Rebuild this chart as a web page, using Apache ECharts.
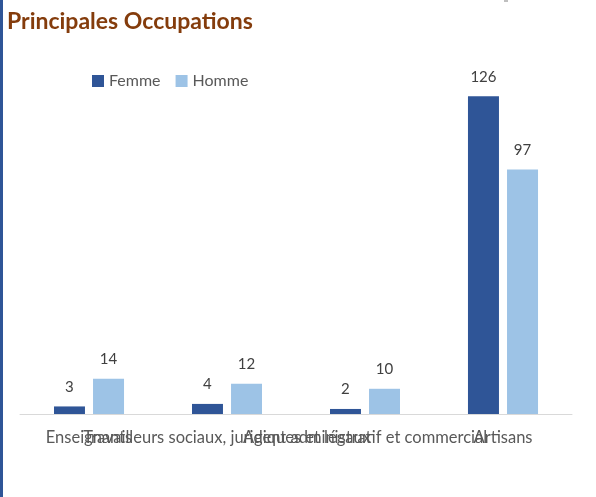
<!DOCTYPE html>
<html lang="fr">
<head>
    <meta charset="UTF-8">
    <title>Principales Occupations</title>
    <script src="https://cdn.jsdelivr.net/npm/echarts@6/dist/echarts.min.js"></script>
    <style>
        html, body { margin: 0; padding: 0; background: #fff; }
        #main { width: 596px; height: 497px; }
    </style>
</head>
<body>
<div id="main"></div>
<script>
    // données
    const categories = ['Enseignants', 'Travailleurs sociaux, juridiques et légaux', 'Agent administratif et commercial', 'Artisans'];
    const femme = [3, 4, 2, 126];
    const homme = [14, 12, 10, 97];

    const fontFam = 'Lato, "Open Sans", sans-serif';

    let myChart = echarts.init(document.getElementById('main'));

    const barLabel = {
        show: true,
        position: 'top',
        distance: 12,
        color: '#404040',
        fontSize: 15,
        fontFamily: fontFam
    };

    const option = {
        animation: false,
        title: {
            text: 'Principales Occupations',
            left: 2,
            top: 5,
            textStyle: {color: '#843c0c', fontSize: 23, fontWeight: 'bold', fontFamily: fontFam}
        },
        legend: {
            left: 87,
            top: 68,
            itemWidth: 12,
            itemHeight: 12,
            itemGap: 15,
            icon: 'rect',
            textStyle: {color: '#595959', fontSize: 16, fontFamily: fontFam},
            data: ['Femme', 'Homme']
        },
        grid: {left: 20, right: 24, top: 61, bottom: 83},
        xAxis: {
            type: 'category',
            data: categories,
            axisLine: {lineStyle: {color: '#d9d9d9', width: 1}},
            axisTick: {show: false},
            axisLabel: {interval: 0, margin: 15, color: '#595959', fontSize: 16.5, fontFamily: fontFam}
        },
        yAxis: {
            type: 'value',
            min: 0,
            max: 140,
            show: false,
            splitLine: {show: false}
        },
        graphic: [
            {type: 'rect', left: 0, top: 0, shape: {width: 3, height: 497}, style: {fill: '#2f5597'}},
            {type: 'rect', left: 504, top: 0, shape: {width: 4, height: 2}, style: {fill: '#bfbfbf'}}
        ],
        series: [
            {
                name: 'Femme',
                type: 'bar',
                data: femme,
                barWidth: 31,
                barGap: '26%',
                itemStyle: {color: '#2f5597'},
                label: barLabel
            },
            {
                name: 'Homme',
                type: 'bar',
                data: homme,
                barWidth: 31,
                itemStyle: {color: '#9dc3e6'},
                label: barLabel
            }
        ]
    };

    myChart.setOption(option);
</script>
</body>
</html>
